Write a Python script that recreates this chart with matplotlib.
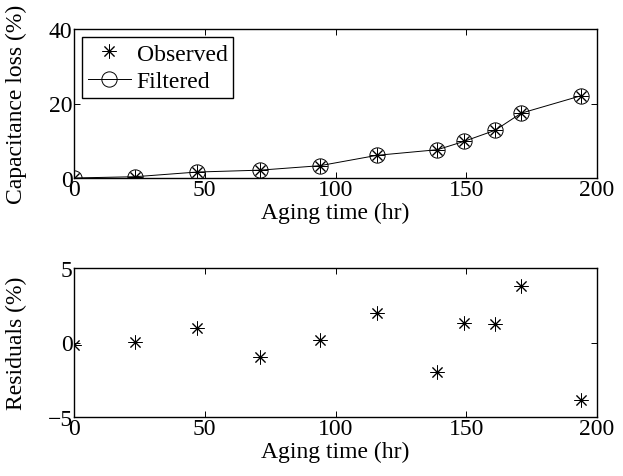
import matplotlib
matplotlib.use("Agg")
import matplotlib.pyplot as plt

plt.rcParams['font.family'] = ['Liberation Serif', 'DejaVu Serif']

# aging time (hr)
aging_time = [0, 23.5, 47, 71, 94, 116, 139, 149, 161, 171, 194]
# capacitance loss (%)
observed = [0.0, 0.35, 1.6, 2.1, 3.3, 6.1, 7.6, 9.8, 12.8, 17.4, 22.1]
filtered = [0.0, 0.35, 1.6, 2.1, 3.3, 6.1, 7.6, 9.8, 12.8, 17.4, 22.1]
# residuals (%)
residuals = [-0.2, 0.05, 0.95, -1.0, 0.15, 1.95, -2.0, 1.3, 1.25, 3.8, -3.85]

asterisk = (8, 2, 0)
fs = 17

fig = plt.figure(figsize=(6.23, 4.77), dpi=100)
ax1 = fig.add_axes([74 / 623, 1 - 179 / 477, 523 / 623, 149 / 477])
ax2 = fig.add_axes([74 / 623, 1 - 418 / 477, 523 / 623, 149 / 477])

ax1.plot(aging_time, observed, linestyle='none', marker=asterisk, color='k',
         markersize=10, markeredgewidth=0.7, label='Observed')
ax1.plot(aging_time, filtered, linestyle='-', marker='o', color='k', linewidth=0.7,
         markersize=11, markerfacecolor='none', markeredgewidth=0.7, label='Filtered')
ax1.set_xlim(0, 200)
ax1.set_ylim(0, 40)
ax1.set_yticks([0, 20, 40])
ax1.set_xlabel('Aging time (hr)', fontsize=fs, labelpad=1)
ax1.set_ylabel('Capacitance loss (%)', fontsize=fs)
ax1.yaxis.set_label_coords(-47 / 523, 0.5)
leg = ax1.legend(loc='upper left', fontsize=fs, frameon=True, fancybox=False,
                 edgecolor='k', borderpad=0.25, handlelength=1.8, handletextpad=0.25,
                 labelspacing=0.25, borderaxespad=0.35, framealpha=1)
leg.get_frame().set_linewidth(1.0)

ax2.plot(aging_time, residuals, linestyle='none', marker=asterisk, color='k',
         markersize=10, markeredgewidth=0.7)
ax2.set_xlim(0, 200)
ax2.set_ylim(-5, 5)
ax2.set_yticks([-5, 0, 5])
ax2.set_yticklabels(['\u22125', '0', '5'])
ax2.set_xlabel('Aging time (hr)', fontsize=fs, labelpad=1)
ax2.set_ylabel('Residuals (%)', fontsize=fs)
ax2.yaxis.set_label_coords(-47 / 523, 0.5)

for ax in (ax1, ax2):
    ax.set_xticks([0, 50, 100, 150, 200])
    ax.tick_params(direction='in', top=True, right=True, labelsize=fs,
                   length=4, width=0.7, pad=1)
    for s in ax.spines.values():
        s.set_linewidth(1.0)

fig.savefig('out.png', dpi=100)
